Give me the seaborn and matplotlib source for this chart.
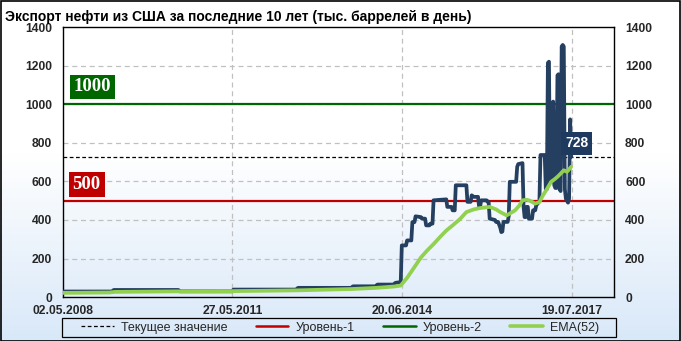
import numpy as np
import pandas as pd
import matplotlib
matplotlib.use("Agg")
import matplotlib.pyplot as plt
import matplotlib.transforms as mtransforms
from matplotlib.patches import Rectangle
from matplotlib.lines import Line2D
import seaborn as sns

# ---------------- data ----------------
title = "Экспорт нефти из США за последние 10 лет (тыс. баррелей в день)"
start_date = "2008-05-02"

export_weeks = [0, 46, 48, 109, 110, 160, 161, 220, 222, 272, 274, 295, 297, 312, 314, 319,
                320, 324, 325, 329, 330, 332, 333, 338, 339, 342, 343, 346, 347, 349, 350, 362,
                363, 367, 368, 370, 371, 381, 382, 385, 386, 388, 392, 393, 394, 395, 400, 401,
                402, 403, 408, 409, 411, 413, 414, 415, 416, 420, 421, 422, 428, 429, 430, 434,
                435, 436, 437, 438, 439, 440, 443, 444, 446, 447, 449, 450, 451, 455, 456, 457,
                458, 459, 460, 461, 462, 463, 464, 465, 466, 467, 468, 469, 470, 471, 472, 473,
                474, 475, 477, 478, 479, 480]
export_values = [29, 29, 37, 37, 30, 30, 39, 39, 48, 48, 56, 56, 65, 65, 74, 78,
                 268, 268, 294, 294, 389, 389, 419, 415, 407, 407, 372, 372, 381, 381, 502, 507,
                 468, 468, 450, 450, 580, 580, 494, 494, 528, 520, 520, 470, 470, 502, 502, 495,
                 495, 407, 400, 390, 390, 360, 337, 340, 390, 390, 420, 598, 598, 676, 690, 695,
                 470, 415, 415, 468, 468, 407, 407, 450, 450, 476, 490, 502, 737, 737, 560, 560,
                 1215, 1221, 598, 598, 1007, 1014, 580, 566, 566, 1150, 1156, 560, 550, 1300, 1308, 1300,
                 560, 510, 490, 510, 922, 728]

ema_weeks = [0, 44, 49, 110, 160, 221, 273, 296, 313, 319, 325, 330, 338, 344, 350, 356, 362,
             368, 375, 381, 388, 394, 403, 409, 413, 419, 424, 427, 431, 434, 438, 441, 446,
             450, 453, 457, 461, 464, 467, 470, 473, 476, 480]
ema_values = [22, 24, 27, 30, 31, 35, 42, 48, 55, 60, 100, 140, 205, 242, 275, 311, 345,
              372, 405, 441, 455, 462, 468, 455, 441, 424, 440, 450, 475, 502, 505, 500, 485,
              493, 525, 560, 598, 610, 624, 640, 658, 650, 676]

current_value = 728
level_1 = 500
level_2 = 1000

x_tick_dates = ["2008-05-02", "2011-05-27", "2014-06-20", "2017-07-19"]
x_tick_labels = ["02.05.2008", "27.05.2011", "20.06.2014", "19.07.2017"]
x_end_date = "2018-04-23"
y_ticks = [0, 200, 400, 600, 800, 1000, 1200, 1400]
legend_labels = ["Текущее значение", "Уровень-1", "Уровень-2", "EMA(52)"]

# ---------------- styling ----------------
sns.set_style("white")
plt.rcParams["font.family"] = ["Liberation Sans", "DejaVu Sans"]

NAVY = "#243F60"
RED = "#C00000"
DGREEN = "#006600"
LGREEN = "#92D050"

start = pd.Timestamp(start_date)
df_exp = pd.DataFrame({"date": start + pd.to_timedelta(np.array(export_weeks) * 7, unit="D"),
                       "value": export_values})
df_ema = pd.DataFrame({"date": start + pd.to_timedelta(np.array(ema_weeks) * 7, unit="D"),
                       "value": ema_values})

W, H = 681, 341
fig = plt.figure(figsize=(W / 100, H / 100), dpi=100)

# background gradient
bg = fig.add_axes([0, 0, 1, 1], zorder=-10)
bg.set_axis_off()
n = 256
t = np.linspace(0, 1, n)  # 0 = top, 1 = bottom
frac = np.clip((t - 0.45) / 0.55, 0, 1)
top = np.array([1.0, 1.0, 1.0])
bot = np.array([0.85, 0.91, 0.975])
grad = top[None, :] * (1 - frac[:, None]) + bot[None, :] * frac[:, None]
bg.imshow(grad[:, None, :], aspect="auto", extent=[0, 1, 0, 1], origin="upper")
bg.set_xlim(0, 1)
bg.set_ylim(0, 1)

# main axes
L, R, T, B = 63, 614, 27.2, 297.1
ax = fig.add_axes([L / W, 1 - B / H, (R - L) / W, (B - T) / H])
ax.patch.set_alpha(0)

ax.set_ylim(0, 1400)
ax.set_xlim(start, pd.Timestamp(x_end_date))

# grid
for yv in y_ticks[1:-1]:
    ax.axhline(yv, color="#c0c0c0", lw=0.9, ls=(0, (4, 3)), zorder=1)
for d in x_tick_dates[1:]:
    ax.axvline(pd.Timestamp(d), color="#c0c0c0", lw=0.9, ls=(0, (4, 3)), zorder=1)

# level lines
ax.axhline(level_2, color=DGREEN, lw=1.6, zorder=2)
ax.axhline(level_1, color=RED, lw=1.6, zorder=2)
ax.axhline(current_value, color="black", lw=0.9, ls=(0, (3, 2)), zorder=2)

sns.lineplot(data=df_exp, x="date", y="value", ax=ax, color=NAVY, lw=2.7, zorder=3,
             estimator=None, sort=False)
sns.lineplot(data=df_ema, x="date", y="value", ax=ax, color=LGREEN, lw=2.7, zorder=4,
             estimator=None, sort=False)

ax.set_xlabel("")
ax.set_ylabel("")
ax.set_yticks(y_ticks)
ax.set_yticklabels([str(v) for v in y_ticks])
ax.set_xticks([pd.Timestamp(d) for d in x_tick_dates])
ax.set_xticklabels(x_tick_labels)
ax.tick_params(axis="both", length=0, labelsize=8.7)
ax.tick_params(axis="y", pad=8, labelright=True, labelleft=True)
ax.tick_params(axis="x", pad=5.5)
for lab in ax.get_xticklabels() + ax.get_yticklabels():
    lab.set_fontweight("bold")
for t_ in ax.yaxis.get_majorticklabels():
    t_.set_fontweight("bold")
for tk in ax.yaxis.get_major_ticks():
    tk.label2.set_fontweight("bold")
for sp in ax.spines.values():
    sp.set_visible(True)
    sp.set_color("black")
    sp.set_linewidth(1.0)

# level labels
trans = mtransforms.blended_transform_factory(ax.transAxes, ax.transData)
ax.text(0.0195, 1090, "1000", transform=trans, ha="left", va="center", color="white",
        fontsize=13.5, fontweight="bold", family="Liberation Serif", zorder=6,
        bbox=dict(boxstyle="square,pad=0.2", fc=DGREEN, ec="none"))
ax.text(0.0175, 584, "500", transform=trans, ha="left", va="center", color="white",
        fontsize=13.5, fontweight="bold", family="Liberation Serif", zorder=6,
        bbox=dict(boxstyle="square,pad=0.2", fc=RED, ec="none"))
ax.text(0.932, 797, str(current_value), transform=trans, ha="center", va="center",
        color="white", fontsize=10, fontweight="bold", zorder=6,
        bbox=dict(boxstyle="square,pad=0.3", fc="#1F3A5F", ec="none"))

# title
fig.text(5 / W, 1 - 17 / H, title, ha="left", va="center", fontsize=10,
         fontweight="bold", color="black")

# legend (frame drawn separately)
handles = [
    Line2D([], [], color="black", lw=0.9, ls=(0, (3, 2))),
    Line2D([], [], color=RED, lw=1.8),
    Line2D([], [], color=DGREEN, lw=1.8),
    Line2D([], [], color=LGREEN, lw=2.6),
]
leg = fig.legend(handles, legend_labels, loc="center", ncol=4,
                 bbox_to_anchor=(340 / W, 1 - 327.5 / H),
                 frameon=False, fontsize=9, handlelength=2.6,
                 handletextpad=0.55, borderpad=0.2, borderaxespad=0, columnspacing=2.3)
fig.patches.append(Rectangle((62 / W, 1 - 337 / H), (616 - 62) / W, 19 / H,
                             transform=fig.transFigure, fill=False, ec="black", lw=0.9))

# figure border
fig.patches.append(Rectangle((0.5 / W, 0.5 / H), 1 - 1.5 / W, 1 - 1.5 / H,
                             transform=fig.transFigure, fill=False, ec="black", lw=1.2))

fig.savefig("out.png", dpi=100)
